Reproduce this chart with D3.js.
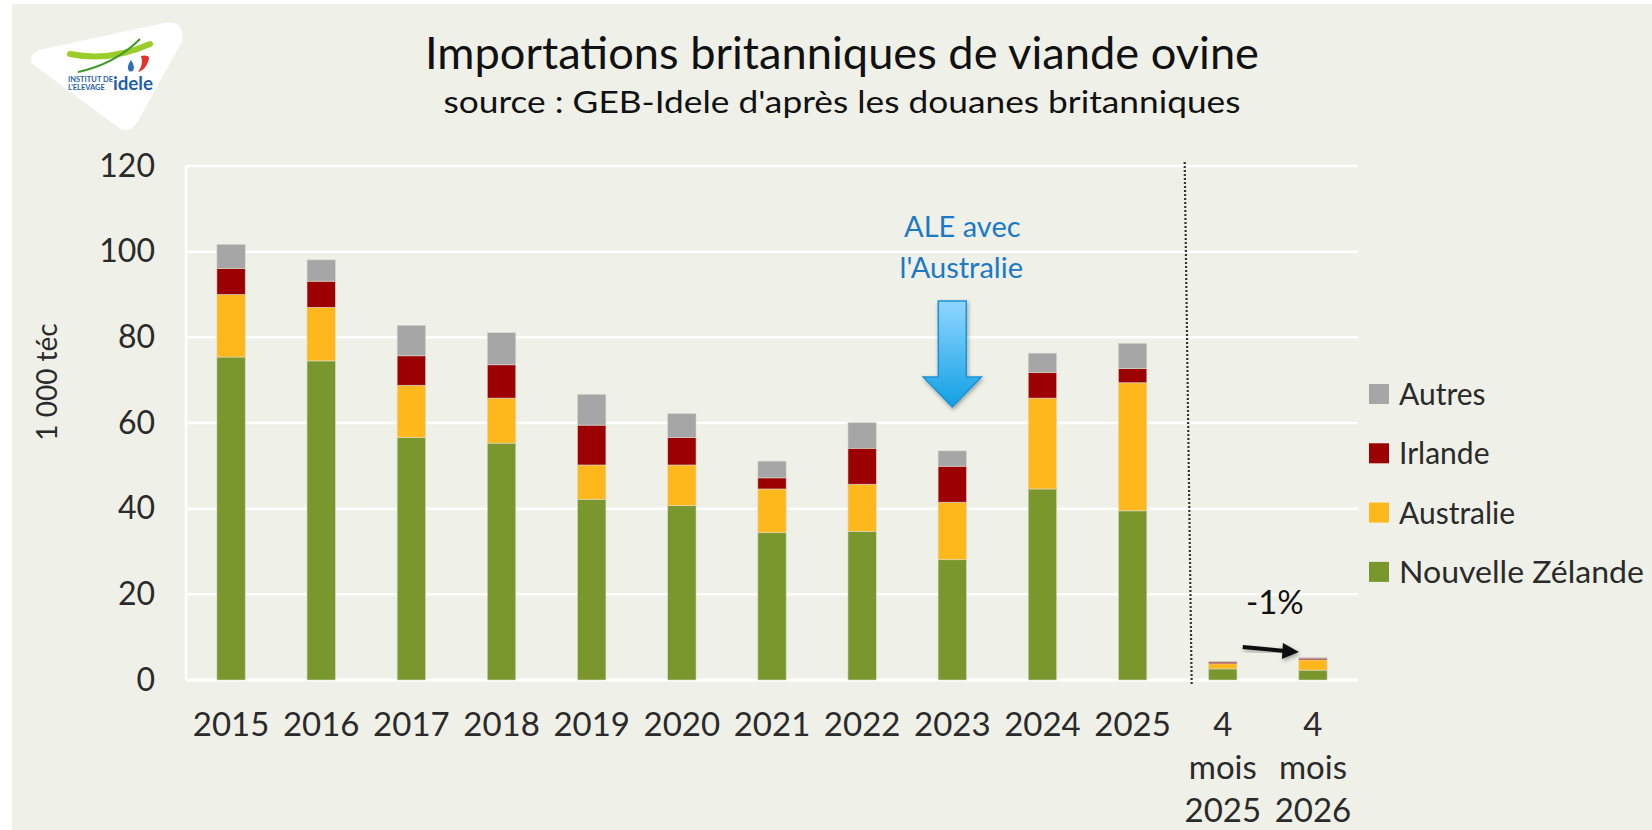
<!DOCTYPE html>
<html>
<head>
<meta charset="utf-8">
<script src="https://cdn.jsdelivr.net/npm/d3@7"></script>
<style>
  html, body { margin: 0; padding: 0; background: #fff; }
  svg { display: block; }
  text { font-family: Lato, "Noto Sans", sans-serif; }
</style>
</head>
<body>
<div id="chart"></div>
<script>
// Importations britanniques de viande ovine (1 000 téc)

const categories = ['2015', '2016', '2017', '2018', '2019', '2020', '2021', '2022', '2023', '2024', '2025', '4m2025', '4m2026']
const tickLabels = [['2015'], ['2016'], ['2017'], ['2018'], ['2019'], ['2020'], ['2021'], ['2022'], ['2023'], ['2024'], ['2025'],
  ['4', 'mois', '2025'], ['4', 'mois', '2026']]

const nouvelleZelande = [75.4, 74.5, 56.6, 55.3, 42.2, 40.7, 34.4, 34.7, 28.1, 44.6, 39.5, 2.6, 2.3]
const australie = [14.6, 12.5, 12.2, 10.5, 8.0, 9.5, 10.2, 11.0, 13.4, 21.2, 29.9, 1.2, 2.4]
const irlande = [6.1, 6.1, 6.9, 7.8, 9.3, 6.4, 2.6, 8.4, 8.4, 6.0, 3.3, 0.4, 0.4]
const autres = [5.6, 5.0, 7.1, 7.5, 7.2, 5.6, 3.9, 6.0, 3.6, 4.5, 5.9, 0.2, 0.2]

const seriesNames = ['Nouvelle Zélande', 'Australie', 'Irlande', 'Autres']
const seriesColors = ['#7a972d', '#ffb81c', '#9c0000', '#a6a6a6']
const yTicks = [0, 20, 40, 60, 80, 100, 120]

const width = 1652
const height = 830
const plot = { left: 186, right: 1358, top: 166, bottom: 680 }

const svg = d3.select('#chart').append('svg')
  .attr('width', width)
  .attr('height', height)

// panel background
svg.append('rect')
  .attr('x', 12).attr('y', 4)
  .attr('width', width - 12).attr('height', height - 4)
  .attr('fill', '#eff0e8')

// logo (simplified)
const logo = svg.append('g')
logo.append('path')
  .attr('d', 'M38,62 Q33,58 40,55 L165,28 Q180,25 177,40 L134,118 Q127,130 118,121 Z')
  .attr('fill', '#fff')
  .attr('stroke', '#fff').attr('stroke-width', 10).attr('stroke-linejoin', 'round')
logo.append('path')
  .attr('d', 'M70,54 Q110,62 150,44')
  .attr('fill', 'none').attr('stroke', '#9ccc2a').attr('stroke-width', 6).attr('stroke-linecap', 'round')
logo.append('path')
  .attr('d', 'M78,72 Q115,64 140,39')
  .attr('fill', 'none').attr('stroke', '#3d9a2a').attr('stroke-width', 2)
logo.append('path')
  .attr('d', 'M141,56 Q152,54 148,62 Q145,70 138,72 Q144,64 141,56 Z')
  .attr('fill', '#e6322d')
logo.append('path')
  .attr('d', 'M131,60 Q126,67 129,71 Q133,73 134,68 Q134,64 131,60 Z')
  .attr('fill', '#2a6fb8')
logo.append('text').attr('x', 68).attr('y', 82)
  .attr('font-size', 7.5).attr('font-weight', 'bold').attr('fill', '#1f5ea8').text('INSTITUT DE')
logo.append('text').attr('x', 68).attr('y', 90)
  .attr('font-size', 7.5).attr('font-weight', 'bold').attr('fill', '#1f5ea8').text("L'ELEVAGE")
logo.append('text').attr('x', 113).attr('y', 90)
  .attr('font-size', 19).attr('font-weight', 'bold').attr('fill', '#1f5ea8')
  .attr('textLength', 40).attr('lengthAdjust', 'spacingAndGlyphs').text('idele')

// titles
svg.append('text')
  .attr('x', 842).attr('y', 69)
  .attr('text-anchor', 'middle')
  .attr('font-family', '"Noto Sans", sans-serif')
  .attr('font-size', 44)
  .attr('fill', '#111')
  .attr('textLength', 834).attr('lengthAdjust', 'spacingAndGlyphs')
  .text('Importations britanniques de viande ovine')
svg.append('text')
  .attr('x', 842).attr('y', 113)
  .attr('text-anchor', 'middle')
  .attr('font-family', '"Noto Sans", sans-serif')
  .attr('font-size', 31)
  .attr('fill', '#111')
  .attr('textLength', 797).attr('lengthAdjust', 'spacingAndGlyphs')
  .text("source : GEB-Idele d'après les douanes britanniques")

// scales
const x = d3.scaleBand()
  .domain(categories)
  .range([plot.left, plot.right])
  .paddingInner(0.685)
  .paddingOuter(0.3425)

const y = d3.scaleLinear()
  .domain([0, 120])
  .range([plot.bottom, plot.top])

// gridlines
svg.append('g')
  .selectAll('line')
  .data(yTicks)
  .join('line')
  .attr('x1', plot.left).attr('x2', plot.right)
  .attr('y1', d => y(d)).attr('y2', d => y(d))
  .attr('stroke', '#fff')
  .attr('stroke-width', d => d === 0 ? 3 : 2.5)

svg.append('line')
  .attr('x1', plot.left).attr('x2', plot.left)
  .attr('y1', y(120)).attr('y2', y(0))
  .attr('stroke', '#fff').attr('stroke-width', 2.5)

// y axis
const yAxis = svg.append('g')
  .attr('transform', `translate(${plot.left - 31}, 0)`)
  .call(d3.axisLeft(y).tickValues(yTicks).tickSize(0).tickPadding(0))
yAxis.select('.domain').remove()
yAxis.selectAll('text')
  .attr('font-size', 32)
  .attr('font-family', 'Lato, sans-serif')
  .attr('fill', '#2a2a2a')

svg.append('text')
  .attr('transform', `translate(57, ${(y(0) + y(120)) / 2 - 41}) rotate(-90)`)
  .attr('text-anchor', 'middle')
  .attr('font-size', 28)
  .attr('fill', '#2a2a2a')
  .text('1 000 téc')

// x axis
const xAxis = svg.append('g')
  .attr('transform', `translate(0, ${plot.bottom})`)
  .call(d3.axisBottom(x).tickSize(0).tickFormat(() => ''))
xAxis.select('.domain').remove()
xAxis.selectAll('.tick text').remove()
xAxis.selectAll('.tick')
  .append('text')
  .attr('text-anchor', 'middle')
  .attr('font-size', 33)
  .attr('font-family', 'Lato, sans-serif')
  .attr('fill', '#2a2a2a')
  .selectAll('tspan')
  .data((d, i) => tickLabels[i])
  .join('tspan')
  .attr('x', 0)
  .attr('y', (d, i) => 56 + i * 43)
  .text(d => d)

// separator between years and 4-month periods
const sepX = x('2025') + x.bandwidth() + (x.step() - x.bandwidth()) / 2 + 10
svg.append('line')
  .attr('x1', sepX - 3).attr('x2', sepX + 4)
  .attr('y1', y(120) - 4).attr('y2', y(0) + 6)
  .attr('stroke', '#333')
  .attr('stroke-width', 2.2)
  .attr('stroke-dasharray', '2,2')

// stacked bars
const rows = categories.map((c, i) => ({
  cat: c,
  'Nouvelle Zélande': nouvelleZelande[i],
  'Australie': australie[i],
  'Irlande': irlande[i],
  'Autres': autres[i]
}))
const stack = d3.stack().keys(seriesNames)(rows)
const color = d3.scaleOrdinal().domain(seriesNames).range(seriesColors)

svg.append('g')
  .selectAll('g')
  .data(stack)
  .join('g')
  .attr('fill', d => color(d.key))
  .selectAll('rect')
  .data(d => d)
  .join('rect')
  .attr('x', d => x(d.data.cat))
  .attr('width', x.bandwidth())
  .attr('y', d => y(d[1]))
  .attr('height', d => y(d[0]) - y(d[1]))
  .attr('stroke', 'rgba(220,220,210,0.7)')
  .attr('stroke-width', 0.8)

// legend
const legendItems = seriesNames.slice().reverse()
const legend = svg.append('g')
  .selectAll('g')
  .data(legendItems)
  .join('g')
  .attr('transform', (d, i) => `translate(1369, ${394 + i * 59.3})`)
legend.append('rect')
  .attr('x', 0).attr('y', -10)
  .attr('width', 20).attr('height', 20)
  .attr('fill', d => color(d))
legend.append('text')
  .attr('x', 30).attr('y', 11)
  .attr('font-size', 30)
  .attr('fill', '#2a2a2a')
  .attr('textLength', d => d === 'Nouvelle Zélande' ? 245 : null)
  .attr('lengthAdjust', 'spacingAndGlyphs')
  .text(d => d)

// annotation ALE
const defs = svg.append('defs')
const grad = defs.append('linearGradient')
  .attr('id', 'blueArrow').attr('x1', 0).attr('x2', 0).attr('y1', 0).attr('y2', 1)
grad.append('stop').attr('offset', '0%').attr('stop-color', '#8fd6ff')
grad.append('stop').attr('offset', '100%').attr('stop-color', '#12a0e4')
const shadow = defs.append('filter').attr('id', 'shadow')
  .attr('x', '-30%').attr('y', '-30%').attr('width', '160%').attr('height', '160%')
shadow.append('feDropShadow')
  .attr('dx', 1).attr('dy', 2).attr('stdDeviation', 2)
  .attr('flood-color', '#000').attr('flood-opacity', 0.35)

const cx = x('2023') + x.bandwidth() / 2
svg.append('text')
  .attr('x', cx + 10).attr('y', 237)
  .attr('text-anchor', 'middle')
  .attr('font-size', 29)
  .attr('fill', '#1b7ac4')
  .text('ALE avec')
svg.append('text')
  .attr('x', cx + 9).attr('y', 278)
  .attr('text-anchor', 'middle')
  .attr('font-size', 29)
  .attr('fill', '#1b7ac4')
  .text("l'Australie")
svg.append('path')
  .attr('d', `M${cx - 14},301 L${cx + 14},301 L${cx + 14},377 L${cx + 29},377 L${cx},407 L${cx - 29},377 L${cx - 14},377 Z`)
  .attr('fill', 'url(#blueArrow)')
  .attr('stroke', '#1a92d4')
  .attr('stroke-width', 1.5)
  .attr('filter', 'url(#shadow)')

// -1% annotation
const c1 = x('4m2025') + x.bandwidth() / 2
const c2 = x('4m2026') + x.bandwidth() / 2
svg.append('text')
  .attr('x', (c1 + c2) / 2 + 7).attr('y', 614)
  .attr('text-anchor', 'middle')
  .attr('font-size', 33)
  .attr('fill', '#111')
  .text('-1%')
svg.append('line')
  .attr('x1', c1 + 20).attr('y1', 647)
  .attr('x2', c2 - 28).attr('y2', 651)
  .attr('stroke', '#111').attr('stroke-width', 4)
  .attr('filter', 'url(#shadow)')
svg.append('path')
  .attr('d', `M${c2 - 30},643 L${c2 - 14},652 L${c2 - 31},659 Z`)
  .attr('fill', '#111')
  .attr('filter', 'url(#shadow)')
</script>
</body>
</html>
